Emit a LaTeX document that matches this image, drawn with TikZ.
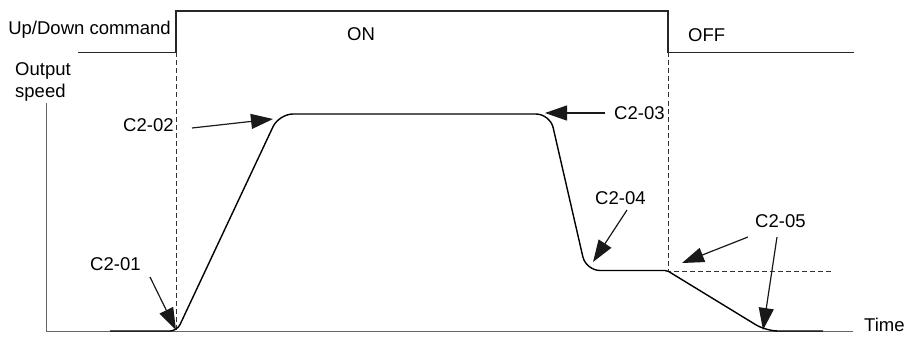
\documentclass[tikz,border=0pt]{standalone}
\usepackage{fontspec}
\setmainfont{Liberation Sans}
\usetikzlibrary{arrows.meta}
\begin{document}
\begin{tikzpicture}[x=1pt,y=-1pt,
  lbl/.style={inner sep=0pt,font=\fontsize{18.5}{21}\selectfont},
  sig/.style={line width=1.3pt,black!85},
  axisline/.style={line width=1.3pt,black!60},
  guide/.style={line width=1pt,black!80,dash pattern=on 5pt off 3pt},
  ptr/.style={line width=1.2pt,black!90,-{Triangle[length=22pt,width=15pt]}}]
\useasboundingbox (0,0) rectangle (908,337);
% command signal
\coordinate (c0) at (78,52.5);
\coordinate (c1) at (176,52.5);
\coordinate (c2) at (176,11);
\coordinate (c3) at (668,11);
\coordinate (c4) at (668,52.5);
\coordinate (c5) at (854,52.5);
\draw[sig] (c0) -- (c1) -- (c2) -- (c3) -- (c4) -- (c5);
% guides
\coordinate (g1) at (176,331);
\coordinate (g2) at (668,271);
\coordinate (g3) at (832,271);
\draw[guide] (c1) -- (g1);
\draw[guide] (c4) -- (g2) -- (g3);
% axes
\coordinate (ay) at (46.5,103);
\coordinate (ao) at (46.5,331.5);
\coordinate (ax) at (853,331.5);
\draw[axisline] (ay) -- (ao) -- (ax);
% output speed curve
\coordinate (s0) at (110,331);
\coordinate (s1) at (177,331);
\coordinate (s2) at (279,114);
\coordinate (s3) at (550,114);
\coordinate (s4) at (586,270.5);
\coordinate (s5) at (667,270.5);
\coordinate (s6) at (766,331);
\coordinate (s7) at (823,331);
\draw[line width=1.4pt,black,rounded corners=7pt] (s0) -- (s1) [rounded corners=14pt] -- (s2) -- (s3) -- (s4) [rounded corners=2pt] -- (s5) [rounded corners=12pt] -- (s6) -- (s7);
% labels
\node[lbl,anchor=base east] (ud) at (171,35) {Up/Down command};
\node[lbl,anchor=base west] (os1) at (15,75) {Output};
\node[lbl,anchor=base west] (os2) at (15,97) {speed};
\node[lbl,anchor=base west] (on) at (347,41) {ON};
\node[lbl,anchor=base west] (off) at (688,41.5) {OFF};
\node[lbl,anchor=base west] (t) at (864,331) {Time};
\node[lbl,anchor=base west] (l1) at (90,270.5) {C2-01};
\node[lbl,anchor=base west] (l2) at (123,131.5) {C2-02};
\node[lbl,anchor=base west] (l3) at (614,119) {C2-03};
\node[lbl,anchor=base west] (l4) at (595,204) {C2-04};
\node[lbl,anchor=base west] (l5) at (755,227) {C2-05};
% pointers
\coordinate (a1s) at (150,277);   \coordinate (a1e) at (176,330);
\coordinate (a2s) at (192,128);   \coordinate (a2e) at (273,119);
\coordinate (a3s) at (605,113);   \coordinate (a3e) at (545,113);
\coordinate (a4s) at (627,210);   \coordinate (a4e) at (593,262);
\coordinate (a5s) at (748,237);   \coordinate (a5e) at (682,263);
\coordinate (a6s) at (777,237);   \coordinate (a6e) at (763,330);
\draw[ptr] (a1s) -- (a1e);
\draw[ptr] (a2s) -- (a2e);
\draw[ptr] (a3s) -- (a3e);
\draw[ptr] (a4s) -- (a4e);
\draw[ptr] (a5s) -- (a5e);
\draw[ptr] (a6s) -- (a6e);
\end{tikzpicture}
\end{document}
